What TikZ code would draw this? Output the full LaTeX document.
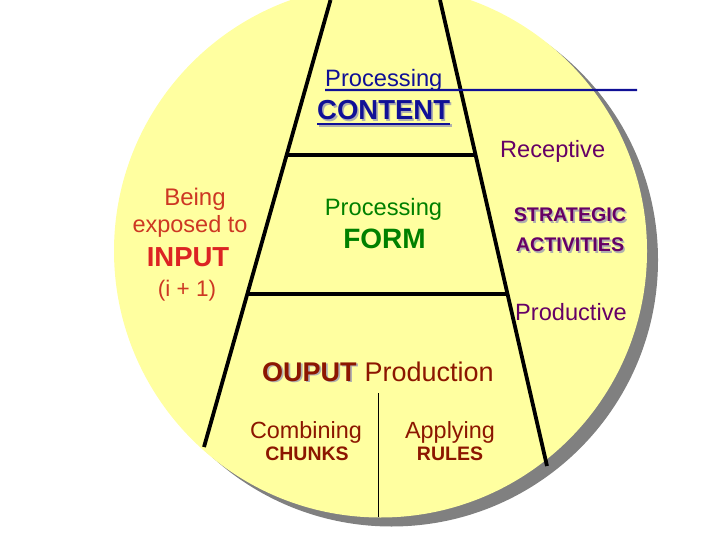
\documentclass[tikz,border=0pt]{standalone}
\usepackage{fontspec}
\setmainfont{Liberation Sans}
\usetikzlibrary{calc}
\newcommand{\fsz}[1]{\fontsize{#1bp}{#1bp}\selectfont}
\newcommand{\shd}[2]{\makebox[0pt][l]{\hspace{1.6bp}\raisebox{-1.6bp}{\color{tshadow}#2}}{\color{#1}#2}}
\definecolor{pale}{RGB}{255,255,160}
\definecolor{shgray}{RGB}{128,128,128}
\definecolor{tshadow}{RGB}{175,175,175}
\definecolor{navyc}{RGB}{16,16,150}
\definecolor{redc}{RGB}{205,55,35}
\definecolor{inred}{RGB}{220,35,35}
\definecolor{greenc}{RGB}{0,128,0}
\definecolor{purplec}{RGB}{102,0,102}
\definecolor{darkredc}{RGB}{140,22,0}
\begin{document}
\begin{tikzpicture}[x=1bp,y=-1bp,
  txt/.style={inner sep=0pt, anchor=base},
  txtw/.style={inner sep=0pt, anchor=base west},
  thickline/.style={line width=3.8bp, black},
  thinline/.style={line width=1bp, black},
  blueline/.style={line width=2.4bp, navyc}]
\useasboundingbox (0,0) rectangle (720,540);
% disc with shadow
\fill[shgray] (391.5,260) circle[radius=266.5];
\fill[pale] (380.5,251) circle[radius=266.5];
% slanted lines
\coordinate (LT) at (330.5,0);
\coordinate (LB) at (204,447);
\coordinate (RT) at (440,0);
\coordinate (RB) at (547,466);
\draw[thickline] (LT) -- (LB);
\draw[thickline] (RT) -- (RB);
\coordinate (h1l) at ($(LT)!0.3468!(LB)$);
\coordinate (h1r) at ($(RT)!0.3326!(RB)$);
\coordinate (h2l) at ($(LT)!0.6577!(LB)$);
\coordinate (h2r) at ($(RT)!0.6309!(RB)$);
\draw[thickline] (h1l) -- (h1r);
\draw[thickline] (h2l) -- (h2r);
% thin vertical divider
\coordinate (vt) at (378,393);
\coordinate (vb) at (378,517);
\draw[thinline] (vt) -- (vb);
% top: Processing CONTENT
\node[txtw, text=navyc, font=\fsz{23.7}] (pc) at (325,87) {Processing};
\coordinate (bluend) at (637,90);
\draw[blueline] ([yshift=-3bp]pc.base west) -- (bluend);
\node[txtw, font=\fsz{27.5}\bfseries] (cont) at (317,120) {\shd{navyc}{CONTENT}};
\draw[line width=2.4bp, tshadow] ([xshift=1.6bp,yshift=-5.6bp]cont.base west) -- ([xshift=1.6bp,yshift=-5.6bp]cont.base east);
\draw[line width=2.4bp, navyc] ([yshift=-4bp]cont.base west) -- ([yshift=-4bp]cont.base east);
% Receptive / Productive
\node[txtw, text=purplec, font=\fsz{23.6}] (rec) at (500,158) {Receptive};
\node[txtw, text=purplec, font=\fsz{23.6}] (prodv) at (515,320) {Productive};
% left: INPUT
\node[txt, text=redc, font=\fsz{24}] (being) at (195,205.5) {Being};
\node[txt, text=redc, font=\fsz{23.5}] (exposed) at (190,233) {exposed to};
\node[txt, text=inred, font=\fsz{27.5}\bfseries] (input) at (188,266.5) {INPUT};
\node[txt, text=redc, font=\fsz{22.5}] (iplus) at (187,296) {(i + 1)};
% middle: FORM
\node[txt, text=greenc, font=\fsz{23.7}] (pf) at (383.5,216) {Processing};
\node[txt, text=greenc, font=\fsz{28}\bfseries] (form) at (384.5,249) {FORM};
% right: strategic activities
\node[txt, font=\fsz{19.7}\bfseries] (str) at (570,222) {\shd{purplec}{STRATEGIC}};
\node[txt, font=\fsz{19.7}\bfseries] (act) at (570,252) {\shd{purplec}{ACTIVITIES}};
% bottom: output
\node[txtw, font=\fsz{27}\bfseries] (op) at (262,381) {\shd{darkredc}{OUPUT}};
\node[txtw, text=darkredc, font=\fsz{27}] (prod) at ([xshift=7.5bp]op.base east) {Production};
\node[txt, text=darkredc, font=\fsz{23.4}] (comb) at (306,438) {Combining};
\node[txt, text=darkredc, font=\fsz{19.5}\bfseries] (chunks) at (307,460) {CHUNKS};
\node[txt, text=darkredc, font=\fsz{23.4}] (appl) at (450,438) {Applying};
\node[txt, text=darkredc, font=\fsz{19.5}\bfseries] (rules) at (450,460) {RULES};
\end{tikzpicture}
\end{document}
